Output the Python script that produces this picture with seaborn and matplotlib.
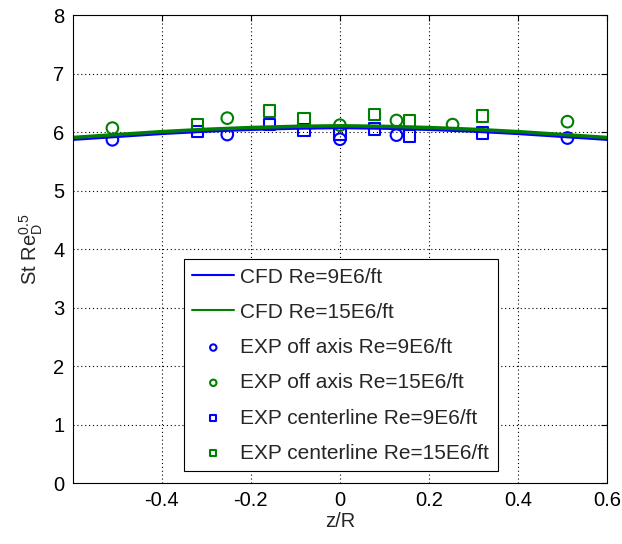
import matplotlib
matplotlib.use("Agg")
import matplotlib.pyplot as plt
import seaborn as sns
import pandas as pd

# ---- data ----
cfd_z = [-0.6, -0.5, -0.4, -0.3, -0.2, -0.1, 0.0, 0.1, 0.2, 0.3, 0.4, 0.5, 0.6]
cfd_9 = [5.88, 5.93, 5.98, 6.02, 6.05, 6.07, 6.08, 6.07, 6.05, 6.02, 5.98, 5.93, 5.88]
cfd_15 = [5.91, 5.96, 6.01, 6.05, 6.08, 6.10, 6.11, 6.10, 6.08, 6.05, 6.01, 5.96, 5.91]

off_z_9 = [-0.511, -0.253, 0.0, 0.127, 0.511]
off_9 = [5.87, 5.96, 5.88, 5.95, 5.90]
off_z_15 = [-0.511, -0.253, 0.0, 0.127, 0.253, 0.511]
off_15 = [6.07, 6.24, 6.12, 6.20, 6.13, 6.18]

cl_z = [-0.32, -0.158, -0.08, 0.0, 0.078, 0.156, 0.32]
cl_9 = [6.01, 6.13, 6.04, 5.97, 6.05, 5.94, 5.99]
cl_z_15 = [-0.32, -0.158, -0.08, 0.078, 0.156, 0.32]
cl_15 = [6.12, 6.36, 6.23, 6.30, 6.19, 6.28]

x_ticks = [-0.4, -0.2, 0, 0.2, 0.4, 0.6]
x_ticklabels = ["-0.4", "-0.2", "0", "0.2", "0.4", "0.6"]
y_ticks = [0, 1, 2, 3, 4, 5, 6, 7, 8]

labels = ["CFD Re=9E6/ft", "CFD Re=15E6/ft", "EXP off axis Re=9E6/ft",
          "EXP off axis Re=15E6/ft", "EXP centerline Re=9E6/ft",
          "EXP centerline Re=15E6/ft"]

# ---- style ----
sns.set_style("white")
plt.rcParams["font.family"] = ["Liberation Sans", "DejaVu Sans"]
plt.rcParams["mathtext.default"] = "regular"

BLUE = "#0000ff"
GREEN = "#008000"
FS = 14.5

fig = plt.figure(figsize=(6.22, 5.44), dpi=100)
ax = fig.add_axes([0.117, 0.112, 0.859, 0.860])

sns.lineplot(x=cfd_z, y=cfd_9, ax=ax, color=BLUE, lw=2.5, label=labels[0])
sns.lineplot(x=cfd_z, y=cfd_15, ax=ax, color=GREEN, lw=2.5, label=labels[1])

ms = 70
sns.scatterplot(x=off_z_9, y=off_9, ax=ax, marker="o", s=ms, facecolors="none",
                edgecolor=BLUE, linewidth=1.5, label=labels[2])
sns.scatterplot(x=off_z_15, y=off_15, ax=ax, marker="o", s=ms, facecolors="none",
                edgecolor=GREEN, linewidth=1.5, label=labels[3])
sns.scatterplot(x=cl_z, y=cl_9, ax=ax, marker="s", s=ms, facecolors="none",
                edgecolor=BLUE, linewidth=1.5, label=labels[4])
sns.scatterplot(x=cl_z_15, y=cl_15, ax=ax, marker="s", s=ms, facecolors="none",
                edgecolor=GREEN, linewidth=1.5, label=labels[5])

ax.set_xlim(-0.6, 0.6)
ax.set_ylim(0, 8)
ax.set_xticks(x_ticks)
ax.set_xticklabels(x_ticklabels)
ax.set_yticks(y_ticks)
ax.tick_params(direction="in", top=True, right=True, length=4, width=0.8,
               labelsize=FS, colors="black", pad=6)
ax.grid(True, linestyle=(0, (1, 2.5)), color="black", lw=0.8)
for sp in ax.spines.values():
    sp.set_color("black")
    sp.set_linewidth(0.8)

ax.set_xlabel("z/R", fontsize=FS, labelpad=1)
ax.set_ylabel(r"St Re$_D^{0.5}$", fontsize=FS, labelpad=6)

leg = ax.legend(loc="lower left", bbox_to_anchor=(0.296, 0.134),
                bbox_transform=fig.transFigure, borderaxespad=0,
                fontsize=15, frameon=True, fancybox=False, framealpha=1,
                edgecolor="black", handlelength=2.0, labelspacing=0.78,
                markerscale=0.55, borderpad=0.4, handletextpad=0.3)
leg.get_frame().set_linewidth(0.8)
for h in leg.legend_handles[:2]:
    h.set_linewidth(1.5)

fig.savefig("out.png", dpi=100)
